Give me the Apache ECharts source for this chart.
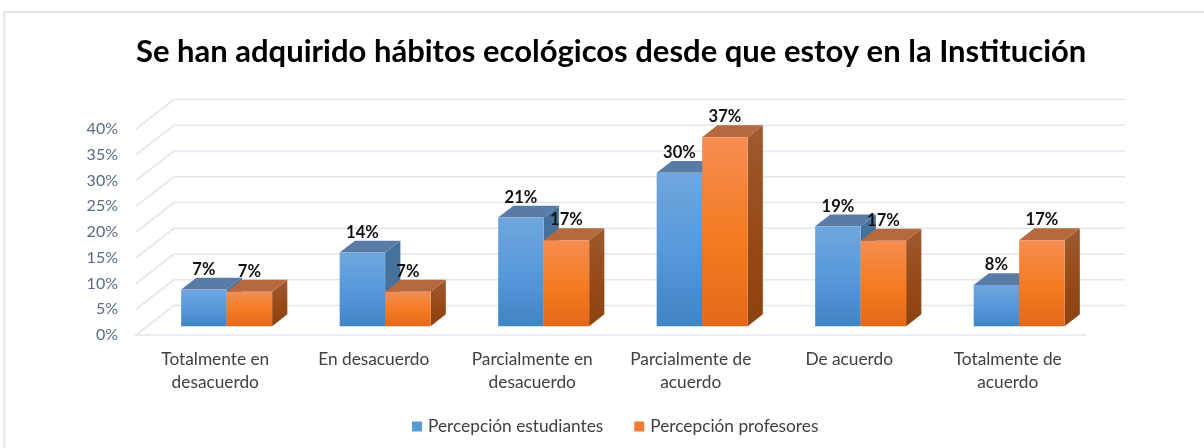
<!DOCTYPE html>
<html>

<head>
	<meta charset="UTF-8">
	<title></title>
	<style>
		html, body {
			margin: 0;
			background: #fff;
		}
		#chart {
			width: 1204px;
			height: 448px;
		}
	</style>
	<script src="https://cdn.jsdelivr.net/npm/echarts@6/dist/echarts.min.js"></script>
</head>

<body>
	<div id="chart"></div>
	<script>
		var categories = ['Totalmente en\ndesacuerdo', 'En desacuerdo', 'Parcialmente en\ndesacuerdo',
			'Parcialmente de\nacuerdo', 'De acuerdo', 'Totalmente de\nacuerdo'];
		var estudiantes = [7.1, 14.3, 21.1, 29.8, 19.4, 8.0];
		var profesores = [6.7, 6.7, 16.7, 36.7, 16.6, 16.7];
		var ticks = [0, 5, 10, 15, 20, 25, 30, 35, 40];

		var myChart = echarts.init(document.getElementById('chart'));

		// oblique projection of the Excel 3D box: full depth of the floor, and the slice taken by the bars
		var depthX = 38, depthY = -29.5;
		var barStart = 0.3, barDepth = 0.4;
		var barShare = 0.287;

		function vgrad(c1, c2, c3) {
			return new echarts.graphic.LinearGradient(0, 0, 0, 1, [
				{ offset: 0, color: c1 },
				{ offset: 0.55, color: c2 },
				{ offset: 1, color: c3 }
			]);
		}

		// one 3D bar: right side, top, front, then the value on top
		function barRenderer(slot, front, side, top) {
			return function (params, api) {
				var base = api.coord([api.value(0), 0]);
				var head = api.coord([api.value(0), api.value(1)]);
				var w = api.size([1, 0])[0] * barShare;
				var ox = depthX * barStart, oy = depthY * barStart;
				var dx = depthX * barDepth, dy = depthY * barDepth;
				var x0 = base[0] + ox + slot * w, x1 = x0 + w;
				var y0 = base[1] + oy, y1 = head[1] + oy;
				return {
					type: 'group',
					children: [
						{
							type: 'polygon',
							shape: { points: [[x1, y0], [x1 + dx, y0 + dy], [x1 + dx, y1 + dy], [x1, y1]] },
							style: { fill: side }
						},
						{
							type: 'polygon',
							shape: { points: [[x0, y1], [x0 + dx, y1 + dy], [x1 + dx, y1 + dy], [x1, y1]] },
							style: { fill: top }
						},
						{
							type: 'rect',
							shape: { x: x0, y: y1, width: w, height: y0 - y1 },
							style: { fill: front }
						}
					]
				};
			};
		}

		// value labels go in their own series so they stay above every bar
		function labelRenderer(slot) {
			return function (params, api) {
				var head = api.coord([api.value(0), api.value(1)]);
				var w = api.size([1, 0])[0] * barShare;
				return {
					type: 'text',
					x: head[0] + depthX * barStart + slot * w + w / 2,
					y: head[1] + depthY * barStart - 20,
					style: {
						text: Math.round(api.value(1)) + '%',
						fill: '#111',
						font: 'bold 16.5px Lato',
						align: 'center',
						verticalAlign: 'middle'
					}
				};
			};
		}

		// walls: each tick runs back along the left wall and across the back wall
		function wallRenderer(params, api) {
			var a = api.coord([0, api.value(0)]);
			var band = api.size([1, 0])[0];
			var left = a[0] - band / 2;
			var right = left + band * categories.length;
			var style = { stroke: '#E2E6EE', lineWidth: 1.6, fill: 'none' };
			var points = [[left, a[1]], [left + depthX, a[1] + depthY], [right + depthX, a[1] + depthY]];
			if (api.value(0) === 0) {
				points = [[right, a[1]], [left, a[1]], [left + depthX, a[1] + depthY], [right + depthX, a[1] + depthY]];
			}
			return { type: 'polyline', shape: { points: points }, style: style };
		}

		function pairs(values) {
			return values.map(function (v, i) { return [i, v]; });
		}

		var option = {
			animation: false,
			backgroundColor: '#fff',
			textStyle: { fontFamily: 'Lato' },
			title: {
				text: 'Se han adquirido hábitos ecológicos desde que estoy en la Institución',
				left: 131,
				top: 31,
				textStyle: { fontFamily: 'Lato', fontWeight: 'bold', fontSize: 31, color: '#000' }
			},
			legend: {
				left: 412,
				top: 418,
				padding: 0,
				itemWidth: 10,
				itemHeight: 10,
				itemGap: 31,
				icon: 'rect',
				data: ['Percepción estudiantes', 'Percepción profesores'],
				textStyle: { fontFamily: 'Lato', fontSize: 17.3, color: '#404040', padding: [0, 0, 0, 1] }
			},
			grid: { left: 136, right: 117, top: 129, height: 206 },
			xAxis: {
				type: 'category',
				data: categories,
				axisLine: { show: false },
				axisTick: { show: false },
				axisLabel: { color: '#404040', fontSize: 17.3, lineHeight: 23, margin: 13, interval: 0 }
			},
			yAxis: {
				type: 'value',
				min: 0,
				max: 40,
				interval: 5,
				splitLine: { show: false },
				axisLine: { show: false },
				axisTick: { show: false },
				axisLabel: { color: '#5B6B85', fontSize: 16, margin: 18, padding: [8, 0, 0, 0], formatter: '{value}%' }
			},
			series: [
				{
					type: 'custom',
					name: 'walls',
					renderItem: wallRenderer,
					data: ticks.map(function (t) { return [t]; }),
					encode: { y: 0 },
					silent: true,
					z: 1
				},
				{
					type: 'custom',
					name: 'Percepción estudiantes',
					renderItem: barRenderer(-1, vgrad('#71A6DD', '#5498DA', '#4184C4'), '#44709C', '#587CA6'),
					data: pairs(estudiantes),
					encode: { x: 0, y: 1 },
					itemStyle: { color: '#5B9BD5' },
					z: 2
				},
				{
					type: 'custom',
					name: 'Percepción profesores',
					renderItem: barRenderer(0, vgrad('#F58D52', '#F47B20', '#E4681A'), vgrad('#9E5A30', '#964A17', '#8C420E'), '#B5693F'),
					data: pairs(profesores),
					encode: { x: 0, y: 1 },
					itemStyle: { color: '#ED7D31' },
					z: 3
				},
				{
					type: 'custom',
					name: 'labels1',
					renderItem: labelRenderer(-1),
					data: pairs(estudiantes),
					encode: { x: 0, y: 1 },
					silent: true,
					z: 4
				},
				{
					type: 'custom',
					name: 'labels2',
					renderItem: labelRenderer(0),
					data: pairs(profesores),
					encode: { x: 0, y: 1 },
					silent: true,
					z: 4
				}
			],
			graphic: [{
				type: 'polyline',
				silent: true,
				shape: { points: [[4.3, 448], [4.3, 12], [1204, 12]] },
				style: { stroke: '#E1E5EA', lineWidth: 2, fill: 'none' }
			}]
		};

		myChart.setOption(option);
	</script>
</body>

</html>
